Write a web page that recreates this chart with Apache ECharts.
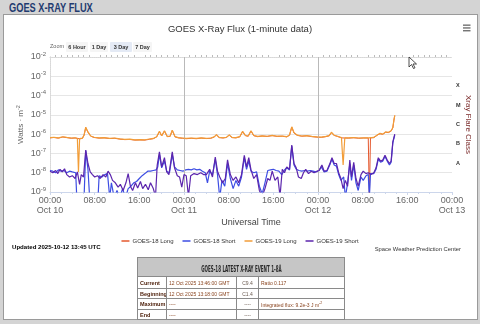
<!DOCTYPE html>
<html><head><meta charset="utf-8">
<script src="https://cdn.jsdelivr.net/npm/echarts@6/dist/echarts.min.js"></script>
<style>
html,body{margin:0;padding:0;width:480px;height:324px;overflow:hidden;background:#d4d4d4;}
#hdr{position:absolute;left:9px;top:1px;font:bold 12.5px 'Liberation Sans',Arial,sans-serif;color:#1f3b70;transform:scaleX(0.74);transform-origin:0 0;white-space:nowrap;}
#panel{position:absolute;left:3px;top:14px;width:473px;height:304px;background:#fff;border:1px solid #9a9a9a;}
#chart{position:absolute;left:0;top:0;width:480px;height:324px;}
#tbl{position:absolute;left:137px;top:257px;width:207px;border-collapse:collapse;table-layout:fixed;font-family:'Liberation Sans',Arial,sans-serif;}
#tbl td,#tbl th{border:1px solid #8a8a8a;padding:0 2px;overflow:hidden;white-space:nowrap;}
#tbl th{background:#c6c6c6;height:18px;text-align:center;}
#tbl .ht{display:inline-block;font:bold 9px 'DejaVu Sans Condensed','DejaVu Sans',sans-serif;color:#2a2a2a;transform:scaleX(0.5);white-space:nowrap;}
#tbl .l{font-size:5.5px;font-weight:bold;color:#4b1d08;}
#tbl .v{font-size:5px;color:#8a4520;}
#tbl .c{font-size:5px;color:#6a5a50;text-align:center;}
#tbl sup{font-size:3.5px;}
</style></head>
<body>
<div id="hdr">GOES X-RAY FLUX</div>
<div id="panel"></div>
<div id="chart"></div>
<table id="tbl">
<colgroup><col style="width:29px"><col style="width:70px"><col style="width:22px"><col style="width:86px"></colgroup>
<tr><th colspan="4"><span class="ht">GOES-18 LATEST X-RAY EVENT 1-8Å</span></th></tr>
<tr style="height:12px"><td class="l">Current</td><td class="v">12 Oct 2025 13:46:00 GMT</td><td class="c">C9.4</td><td class="v">Ratio 0.117</td></tr>
<tr style="height:10px"><td class="l">Beginning</td><td class="v">12 Oct 2025 13:18:00 GMT</td><td class="c">C1.4</td><td></td></tr>
<tr style="height:11px"><td class="l">Maximum</td><td class="v">----</td><td class="c">----</td><td class="v">Integrated flux: 9.2e-3 J m<sup>-2</sup></td></tr>
<tr style="height:10px"><td class="l">End</td><td class="v">----</td><td class="c">----</td><td></td></tr>
</table>
<script>
// ---- data (hours since 2025-10-10 00:00 UTC, flux W/m^2) ----
const seriesNames = ['GOES-18 Long', 'GOES-18 Short', 'GOES-19 Long', 'GOES-19 Short'];

const g19LongHours = [0,0.7,1.5,2.3,3.0,3.8,4.5,4.9,5.1,5.3,5.8,6.1,6.4,6.8,7.3,7.9,8.8,9.7,10.7,11.6,12.5,13.4,14.3,15.2,16.1,17.0,17.8,18.5,19.1,19.6,20.0,20.5,21.0,21.5,21.9,22.4,23.0,23.7,24.4,25.3,26.2,27.1,28.0,28.8,29.4,29.8,30.3,31.0,31.6,32.1,32.6,33.3,34.0,34.5,35.0,35.5,36.0,36.5,37.2,38.0,38.9,39.8,40.7,41.6,42.4,42.9,43.3,43.7,44.3,45.1,46.0,46.9,47.8,48.6,49.4,50.0,50.4,50.9,51.5,52.2,52.5,52.8,53.5,54.4,55.3,56.2,57.1,58.0,58.6,59.1,59.6,60.1,60.6,61.1,61.4,61.6,61.75];
const g19LongFlux = [6.6e-7,6.9e-7,6.4e-7,7.3e-7,6.8e-7,6.3e-7,6.5e-7,6.0e-7,1.1e-8,5.8e-7,6.2e-7,9e-7,2.3e-6,1.3e-6,8e-7,6.9e-7,6.4e-7,6.6e-7,6.1e-7,6.3e-7,5.7e-7,5.4e-7,5.5e-7,5.0e-7,5.2e-7,5.1e-7,5.6e-7,6.0e-7,7.4e-7,1.4e-6,8.2e-7,1.5e-6,7.6e-7,7.8e-7,1.6e-6,7.4e-7,6.6e-7,6.3e-7,6.0e-7,6.3e-7,6.0e-7,6.4e-7,6.1e-7,6.3e-7,7.2e-7,9.5e-7,6.8e-7,6.5e-7,6.9e-7,9.2e-7,6.8e-7,6.6e-7,7.5e-7,1.4e-6,8.5e-7,8.0e-7,1.5e-6,8.5e-7,7.6e-7,8.2e-7,7.8e-7,8.6e-7,7.8e-7,8.0e-7,7.4e-7,9.0e-7,2.4e-6,1.2e-6,8.8e-7,8.0e-7,8.4e-7,7.6e-7,7.2e-7,7.0e-7,7.6e-7,8.4e-7,1.25e-6,8.8e-7,7.8e-7,6.6e-7,2.5e-8,6.5e-7,6.4e-7,6.7e-7,6.3e-7,6.5e-7,6.4e-7,6.8e-7,9.0e-7,1.1e-6,1.0e-6,1.3e-6,1.25e-6,1.5e-6,2.2e-6,5.5e-6,9.4e-6];

const g18LongHours = [0,0.7,1.5,2.3,3.0,3.8,4.5,5.3,5.8,6.1,6.4,6.8,7.3,7.9,8.8,9.7,10.7,11.6,12.5,13.4,14.3,15.2,16.1,17.0,17.8,18.5,19.1,19.6,20.0,20.5,21.0,21.5,21.9,22.4,23.0,23.7,24.4,25.3,26.2,27.1,28.0,28.8,29.4,29.8,30.3,31.0,31.6,32.1,32.6,33.3,34.0,34.5,35.0,35.5,36.0,36.5,37.2,38.0,38.9,39.8,40.7,41.6,42.4,42.9,43.3,43.7,44.3,45.1,46.0,46.9,47.8,48.6,49.4,50.0,50.4,50.9,51.5,52.2,52.8,53.5,54.4,55.3,56.2,57.0,57.2,57.4,58.0,58.6,59.1,59.6,60.1,60.6,61.1,61.4,61.6,61.75];
const g18LongFlux = [6.4e-7,6.7e-7,6.2e-7,7.1e-7,6.6e-7,6.1e-7,6.3e-7,5.7e-7,6.0e-7,8.7e-7,2.2e-6,1.25e-6,7.8e-7,6.7e-7,6.2e-7,6.4e-7,5.9e-7,6.1e-7,5.5e-7,5.2e-7,5.3e-7,4.9e-7,5.0e-7,4.9e-7,5.4e-7,5.8e-7,7.2e-7,1.35e-6,8.0e-7,1.45e-6,7.4e-7,7.6e-7,1.55e-6,7.2e-7,6.4e-7,6.1e-7,5.8e-7,6.1e-7,5.8e-7,6.2e-7,5.9e-7,6.1e-7,7.0e-7,9.2e-7,6.6e-7,6.3e-7,6.7e-7,8.9e-7,6.6e-7,6.4e-7,7.3e-7,1.35e-6,8.3e-7,7.8e-7,1.45e-6,8.3e-7,7.4e-7,8.0e-7,7.6e-7,8.4e-7,7.6e-7,7.8e-7,7.2e-7,8.8e-7,2.3e-6,1.15e-6,8.6e-7,7.8e-7,8.2e-7,7.4e-7,7.0e-7,6.8e-7,7.4e-7,8.2e-7,1.2e-6,8.6e-7,7.6e-7,6.4e-7,6.3e-7,6.2e-7,6.5e-7,6.1e-7,6.3e-7,6.3e-7,5e-10,6.4e-7,6.6e-7,8.8e-7,1.05e-6,9.8e-7,1.25e-6,1.2e-6,1.45e-6,2.1e-6,5.3e-6,9.2e-6];

const g19ShortHours = [0,0.5,1.0,1.4,1.8,2.2,2.6,3.0,3.5,4.0,4.5,4.9,5.3,5.6,6.0,6.4,6.8,7.2,7.6,8.0,8.5,9.0,9.5,10.0,10.4,10.8,11.2,11.7,12.2,12.6,13.1,13.6,14.0,14.4,14.8,15.3,15.7,16.2,16.6,17.1,17.6,18.0,18.5,18.9,19.2,19.6,20.0,20.5,20.9,21.3,21.9,22.3,22.8,23.2,23.6,24.0,24.4,24.8,25.2,25.8,26.4,27.0,27.5,28.0,28.6,29.1,29.6,30.0,30.4,30.9,31.4,31.8,32.3,32.8,33.3,33.8,34.3,34.8,35.2,35.6,36.0,36.5,37.0,37.5,38.0,38.5,39.0,39.4,39.8,40.3,40.8,41.2,41.6,42.0,42.4,42.9,43.3,43.7,44.1,44.5,45.0,45.4,45.8,46.3,46.8,47.3,47.8,48.2,48.7,49.1,49.6,50.1,50.5,50.9,51.3,51.7,52.1,52.5,52.9,53.3,53.7,54.0,54.4,54.8,55.2,55.7,56.1,56.6,57.0,57.5,58.0,58.4,58.8,59.2,59.6,60.0,60.4,60.8,61.1,61.4,61.75];
const g19ShortFlux = [1.2e-8,1.0e-8,1.3e-8,9e-9,1.5e-8,1.1e-8,1.6e-8,8e-9,6e-9,7e-9,5e-9,1.1e-8,2.5e-9,8e-9,6e-9,1.5e-7,3e-8,1.1e-8,8e-9,6e-9,7e-9,5e-9,8e-9,6e-9,1.2e-8,8e-9,4e-9,3e-9,1.8e-9,2.5e-9,1.2e-9,3e-9,9e-9,2e-9,1.2e-9,3e-9,1.6e-9,3.5e-9,1.5e-9,2.5e-9,1.3e-9,3e-9,1.5e-9,6e-10,2.5e-8,1.2e-7,2e-8,6e-8,1.1e-8,8e-9,1.2e-7,1.8e-8,7e-9,6e-9,1.8e-9,8e-9,7e-9,6e-10,7e-9,9e-9,8e-9,1.0e-8,8e-9,8e-9,1.5e-8,6e-9,6.5e-8,1.2e-8,6e-9,3e-9,5e-9,4.6e-8,8e-9,4e-9,6e-9,3e-9,8e-9,8e-8,2e-8,6e-8,1.4e-8,5e-9,8e-9,1.2e-9,6e-10,1.5e-9,5e-9,4e-9,1.2e-8,4e-9,6e-9,6e-10,1.5e-8,1.0e-8,2e-8,1.5e-8,2.7e-7,3e-8,1.8e-8,6e-9,5e-9,1.0e-8,1.5e-8,9e-9,1.2e-8,1.0e-8,1.2e-8,1.3e-8,2.5e-8,1.2e-8,1.3e-8,2.8e-8,6e-8,3e-8,3e-8,1e-8,5e-9,1.5e-9,4e-9,2e-9,4.5e-8,6e-9,3.5e-8,5e-9,2e-9,8e-9,1.2e-8,9e-9,1.0e-8,8e-9,1.0e-8,1.8e-8,6e-8,4e-8,4.5e-8,8e-8,4.5e-8,3e-8,4e-8,4e-7,1.0e-6];

const g18ShortHours = [0,0.5,1.0,1.5,2.0,2.5,3.0,3.5,4.0,4.6,4.8,5.5,6.1,6.4,6.8,7.1,8.0,8.6,8.8,9.3,9.8,10.3,10.7,11.0,11.5,12.0,12.5,13.0,13.5,14.0,14.5,15.0,15.5,16.0,16.5,17.0,17.5,18.0,18.5,19.0,19.3,19.6,20.0,20.5,20.9,21.4,21.9,22.3,22.8,23.3,23.8,24.3,24.8,25.3,25.8,26.3,26.8,27.3,27.8,28.2,28.6,29.1,29.6,30.0,30.4,30.8,31.3,31.8,32.3,32.8,33.3,33.8,34.3,34.8,35.2,35.6,36.0,36.5,37.0,37.5,38.0,38.5,39.0,39.5,40.0,40.5,41.0,41.5,42.0,42.4,42.9,43.3,43.7,44.1,44.6,45.1,45.6,46.1,46.6,47.1,47.6,48.1,48.6,49.1,49.6,50.1,50.5,50.9,51.3,51.7,52.1,52.6,52.9,53.3,53.7,54.0,54.4,54.8,55.2,55.7,56.1,56.6,57.0,57.2,57.4,58.0,58.4,58.8,59.2,59.6,60.0,60.4,60.8,61.1,61.4,61.75];
const g18ShortFlux = [1.3e-8,1.2e-8,1.0e-8,1.4e-8,1.2e-8,1.3e-8,1.0e-8,1.2e-8,1.1e-8,1.0e-8,5e-10,5e-10,5e-10,1.4e-7,1.5e-8,5e-10,5e-10,5e-10,7e-9,6e-9,8e-9,9e-9,5e-10,3e-9,5e-10,1.2e-9,5e-10,1.5e-9,5e-10,1.5e-9,2e-9,3e-9,3.5e-9,5e-9,7e-9,9e-9,1.2e-8,1.2e-8,1.3e-8,1.4e-8,2e-8,9e-8,1.8e-8,4e-8,1.2e-8,1.0e-8,9e-8,2e-8,1.4e-8,1.3e-8,1.2e-8,1.4e-8,1.5e-8,1.4e-8,1.6e-8,1.4e-8,1.5e-8,1.2e-8,1.0e-8,3e-9,1.2e-8,8e-9,5e-8,8e-9,5e-10,4e-9,2e-9,3e-8,5e-9,1.5e-9,4e-9,2e-9,6e-9,6e-8,1.5e-8,4e-8,1.2e-8,1.0e-8,1.1e-8,2e-9,8e-10,3e-9,1.3e-8,1.4e-8,1.5e-8,1.3e-8,1.2e-8,8e-9,1.4e-8,1.8e-8,1.4e-8,2.4e-7,2.5e-8,1.5e-8,1.3e-8,1.2e-8,1.3e-8,1.2e-8,1.3e-8,1.2e-8,1.1e-8,1.2e-8,2e-8,1.1e-8,1.2e-8,2.5e-8,5e-8,2.5e-8,2.2e-8,8e-9,4e-9,6e-9,5e-10,3e-9,3e-8,4e-9,2.5e-8,3e-9,1.2e-9,6e-9,4e-9,7e-9,8e-9,5e-10,9e-9,9e-9,1.5e-8,5e-8,3.5e-8,4e-8,7e-8,4e-8,2.5e-8,3.5e-8,3.5e-7,9e-7];

const dayBoundaryHours = [24, 48];
const xTickHours = [0, 8, 16, 24, 32, 40, 48, 56, 64, 72];
const xTickLabels = ['00:00\nOct 10', '08:00', '16:00', '00:00\nOct 11', '08:00', '16:00', '00:00\nOct 12', '08:00', '16:00', '00:00\nOct 13'];
const flareClasses = ['A', 'B', 'C', 'M', 'X'];
const zoomButtons = ['6 Hour', '1 Day', '3 Day', '7 Day'];
const selectedZoom = '3 Day';

const colors = ['#e4582e', '#3d4de3', '#f29d38', '#5b25ad'];
const FONT = "'Liberation Sans', Arial, sans-serif";

function pairs(h, v) { return h.map((x, i) => [x, v[i]]); }

const chart = echarts.init(document.getElementById('chart'), null, {renderer: 'canvas'});

const lineSeries = [
  [g18LongHours, g18LongFlux], [g18ShortHours, g18ShortFlux],
  [g19LongHours, g19LongFlux], [g19ShortHours, g19ShortFlux]
].map((d, i) => ({
  name: seriesNames[i], type: 'line', data: pairs(d[0], d[1]),
  showSymbol: false, symbol: 'none', clip: true,
  lineStyle: {width: i === 0 ? 1 : 1.2, color: colors[i]}, itemStyle: {color: colors[i]},
  z: 3 + i
}));
lineSeries[0].markLine = {
  silent: true, symbol: ['none', 'none'], label: {show: false},
  lineStyle: {color: '#b9b9b9', type: 'solid', width: 1},
  data: dayBoundaryHours.map(h => ({xAxis: h}))
};

// zoom buttons
const btnX = [66, 90, 110, 133], btnW = [22, 18, 22, 19];
const graphics = [];
graphics.push({type: 'text', left: 50, top: 43, style: {text: 'Zoom', font: '5.5px ' + FONT, fill: '#666'}});
zoomButtons.forEach((b, i) => {
  graphics.push({type: 'rect', shape: {x: btnX[i], y: 42, width: btnW[i], height: 10, r: 1},
    style: {fill: b === selectedZoom ? '#e4eaf5' : '#f5f5f5'}});
  graphics.push({type: 'text', x: btnX[i] + btnW[i] / 2, y: 47,
    style: {text: b, font: 'bold 5.5px ' + FONT, fill: '#333', align: 'center', verticalAlign: 'middle'}});
});
[24.5, 27.3, 30.1].forEach(y => graphics.push({type: 'rect', shape: {x: 463, y: y, width: 7.5, height: 1.3}, style: {fill: '#666'}}));
graphics.push({type: 'text', left: 12, top: 244, style: {text: 'Updated 2025-10-12 13:45 UTC', font: 'bold 6.1px ' + FONT, fill: '#000'}});
graphics.push({type: 'text', right: 19, top: 246, style: {text: 'Space Weather Prediction Center', font: '5.8px ' + FONT, fill: '#333'}});
graphics.push({type: 'polygon', shape: {points: [[409, 57], [409, 67], [411.5, 64.5], [413.5, 68.5], [415, 67.8], [413, 64], [416.5, 64]]},
  style: {fill: '#fff', stroke: '#222', lineWidth: 0.8}, z: 100});

chart.setOption({
  animation: false,
  backgroundColor: 'transparent',
  color: colors,
  textStyle: {fontFamily: FONT},
  title: {text: 'GOES X-Ray Flux (1-minute data)', left: 'center', top: 19,
    textStyle: {fontSize: 9.5, fontWeight: 'normal', color: '#333', fontFamily: FONT}},
  legend: {data: seriesNames, top: 233, left: 'center', icon: 'rect', itemWidth: 8, itemHeight: 1.5, itemGap: 9,
    textStyle: {fontSize: 6, color: '#333', fontFamily: FONT, padding: [0, 0, 0, -2]}},
  grid: {left: 50, right: 26, top: 57, bottom: 132, show: false},
  xAxis: [{
    type: 'value', min: 0, max: 72, interval: 8, position: 'bottom',
    name: 'Universal Time', nameLocation: 'middle', nameGap: 26,
    nameTextStyle: {fontSize: 9, color: '#444', fontFamily: FONT},
    axisLine: {show: true, lineStyle: {color: '#ccd6eb'}},
    axisTick: {show: true, length: 3, lineStyle: {color: '#ccd6eb'}},
    minorTick: {show: true, splitNumber: 4, length: 2, lineStyle: {color: '#ccd6eb'}},
    splitLine: {show: false},
    axisLabel: {fontSize: 9, color: '#666', lineHeight: 10, margin: 4, fontFamily: FONT,
      formatter: v => { const k = xTickHours.indexOf(v); return k >= 0 ? xTickLabels[k] : ''; }}
  }, {
    type: 'value', min: 0, max: 72, interval: 8, position: 'top',
    axisLine: {show: true, lineStyle: {color: '#d8d8d8', type: 'dotted'}},
    axisTick: {show: false}, axisLabel: {show: false}, splitLine: {show: false},
    minorTick: {show: true, splitNumber: 8, length: 2, inside: true, lineStyle: {color: '#bbb'}}
  }],
  yAxis: [{
    type: 'log', logBase: 10, min: 1e-9, max: 1e-2, splitNumber: 7, position: 'left',
    name: '{a|Watts · m}{s|-2}', nameLocation: 'middle', nameGap: 24, nameRotate: 90, nameMoveOverlap: false,
    nameTextStyle: {rich: {a: {fontSize: 8, color: '#666', fontFamily: FONT}, s: {fontSize: 5.5, color: '#666', padding: [0, 0, 5, 0], fontFamily: FONT}}},
    axisLine: {show: true, lineStyle: {color: '#d8d8d8', type: 'dotted'}},
    axisTick: {show: false},
    splitLine: {show: true, lineStyle: {color: '#e6e6e6', width: 1}},
    axisLabel: {margin: 4, formatter: v => '{b|10}{s|' + Math.round(Math.log10(v)) + '}',
      rich: {b: {fontSize: 9, color: '#666', fontFamily: FONT}, s: {fontSize: 6, color: '#666', padding: [0, 0, 6, 0], fontFamily: FONT}}}
  }, {
    type: 'value', min: 0, max: 14, interval: 1, position: 'right',
    name: 'Xray Flare Class', nameLocation: 'middle', nameGap: 12, nameRotate: -90, nameMoveOverlap: false,
    nameTextStyle: {fontSize: 8, color: '#7a2a2a', fontFamily: FONT},
    axisLine: {show: true, lineStyle: {color: '#d8d8d8', type: 'dotted'}},
    axisTick: {show: false}, splitLine: {show: false},
    axisLabel: {margin: 4, fontSize: 5.5, color: '#333', fontWeight: 'bold', fontFamily: FONT,
      formatter: v => (v % 2 === 1 && v >= 3 && v <= 11) ? flareClasses[(v - 3) / 2] : ''}
  }],
  series: lineSeries,
  graphic: graphics
});
</script>
</body></html>
